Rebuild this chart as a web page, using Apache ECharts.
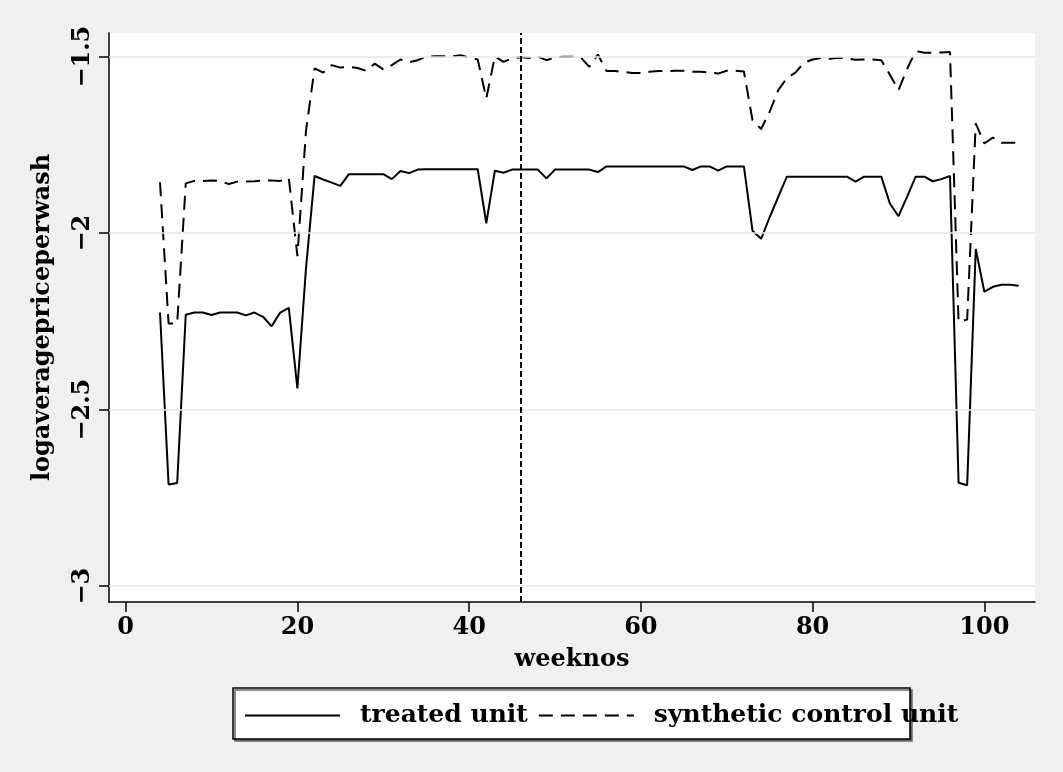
<!DOCTYPE html>
<html>
<head>
<meta charset="utf-8">
<script src="https://cdn.jsdelivr.net/npm/echarts@6/dist/echarts.min.js"></script>
<style>
  html, body { margin: 0; padding: 0; background: #f0f0f0; }
  #chart { width: 1063px; height: 772px; }
</style>
</head>
<body>
<div id="chart"></div>
<script>
const weeks = [4, 5, 6, 7, 8, 9, 10, 11, 12, 13, 14, 15, 16, 17, 18, 19, 20, 21, 22, 23,
  24, 25, 26, 27, 28, 29, 30, 31, 32, 33, 34, 35, 36, 37, 38, 39, 40, 41, 42, 43,
  44, 45, 46, 47, 48, 49, 50, 51, 52, 53, 54, 55, 56, 57, 58, 59, 60, 61, 62, 63,
  64, 65, 66, 67, 68, 69, 70, 71, 72, 73, 74, 75, 76, 77, 78, 79, 80, 81, 82, 83,
  84, 85, 86, 87, 88, 89, 90, 91, 92, 93, 94, 95, 96, 97, 98, 99, 100, 101, 102, 103, 104]

const treated = [-2.225, -2.712, -2.708, -2.231, -2.225, -2.225, -2.232, -2.225, -2.225, -2.225,
  -2.233, -2.225, -2.237, -2.264, -2.225, -2.212, -2.440, -2.100, -1.838, -1.848,
  -1.857, -1.866, -1.833, -1.833, -1.833, -1.833, -1.833, -1.847, -1.824, -1.830,
  -1.820, -1.819, -1.819, -1.819, -1.819, -1.819, -1.819, -1.819, -1.972, -1.823,
  -1.829, -1.820, -1.820, -1.820, -1.820, -1.845, -1.820, -1.820, -1.820, -1.820,
  -1.820, -1.827, -1.811, -1.811, -1.811, -1.811, -1.811, -1.811, -1.811, -1.811,
  -1.811, -1.811, -1.821, -1.811, -1.811, -1.823, -1.811, -1.811, -1.811, -1.993,
  -2.016, -1.955, -1.897, -1.840, -1.840, -1.840, -1.840, -1.840, -1.840, -1.840,
  -1.840, -1.854, -1.840, -1.840, -1.840, -1.916, -1.952, -1.897, -1.840, -1.840,
  -1.853, -1.847, -1.838, -2.707, -2.714, -2.045, -2.166, -2.152, -2.146, -2.146, -2.149]

const synthetic = [-1.856, -2.256, -2.256, -1.859, -1.852, -1.852, -1.851, -1.852, -1.861, -1.854,
  -1.854, -1.853, -1.851, -1.851, -1.852, -1.844, -2.065, -1.710, -1.533, -1.545,
  -1.524, -1.531, -1.529, -1.532, -1.540, -1.520, -1.536, -1.524, -1.508, -1.516,
  -1.510, -1.500, -1.499, -1.499, -1.499, -1.496, -1.503, -1.508, -1.618, -1.499,
  -1.515, -1.505, -1.502, -1.504, -1.500, -1.510, -1.502, -1.500, -1.500, -1.502,
  -1.529, -1.494, -1.541, -1.541, -1.543, -1.546, -1.546, -1.543, -1.541, -1.541,
  -1.540, -1.540, -1.543, -1.543, -1.545, -1.548, -1.540, -1.540, -1.542, -1.680,
  -1.705, -1.656, -1.595, -1.561, -1.545, -1.517, -1.508, -1.504, -1.506, -1.503,
  -1.505, -1.509, -1.508, -1.508, -1.510, -1.551, -1.595, -1.535, -1.484, -1.489,
  -1.489, -1.488, -1.487, -2.251, -2.245, -1.689, -1.746, -1.729, -1.744, -1.744, -1.744]

const xTicks = [0, 20, 40, 60, 80, 100]
const yTicks = [-3, -2.5, -2, -1.5]
const treatmentWeek = 46

const font = 'DejaVu Serif'
const chart = echarts.init(document.getElementById('chart'))
const pairs = vals => weeks.map((w, i) => [w, vals[i]])
const minus = v => String(v).replace('-', '\u2212')

chart.setOption({
  animation: false,
  backgroundColor: '#f0f0f0',
  textStyle: { fontFamily: font },
  grid: { left: 109, right: 28, top: 33, bottom: 170, show: true, backgroundColor: '#fff', borderWidth: 0, outerBoundsMode: 'none' },
  xAxis: {
    type: 'value', min: -1.94, max: 105.9,
    name: 'weeknos', nameLocation: 'middle', nameGap: 46,
    nameTextStyle: { color: '#000', fontSize: 24, fontWeight: 'bold', fontFamily: font },
    axisLine: { onZero: false, lineStyle: { color: '#000', width: 1.5 } },
    axisTick: { show: true, length: 10, customValues: xTicks, lineStyle: { color: '#000', width: 1.5 } },
    axisLabel: { customValues: xTicks, margin: 14, color: '#000', fontSize: 24, fontWeight: 'bold', fontFamily: font },
    splitLine: { show: false },
  },
  yAxis: {
    type: 'value', min: -3.045, max: -1.433,
    name: 'logaveragepriceperwash', nameLocation: 'middle', nameRotate: 90, nameGap: 54,
    nameTextStyle: { color: '#000', fontSize: 24, fontWeight: 'bold', fontFamily: font },
    axisLine: { show: true, onZero: false, lineStyle: { color: '#000', width: 1.5 } },
    axisTick: { show: true, length: 10, customValues: yTicks, lineStyle: { color: '#000', width: 1.5 } },
    axisLabel: { customValues: yTicks, rotate: 90, margin: 14, formatter: minus, color: '#000', fontSize: 24, fontWeight: 'bold', fontFamily: font },
    splitLine: { show: false },
  },
  legend: {
    data: ['treated unit', 'synthetic control unit'],
    left: 244, top: 703, padding: 0, itemGap: 10, itemWidth: 95, itemHeight: 24,
    itemStyle: { opacity: 0 },
    textStyle: { color: '#000', fontSize: 25, fontWeight: 'bold', fontFamily: font, padding: [0, 0, 0, 15] },
  },
  graphic: [{
    type: 'rect', z: 1,
    shape: { x: 233, y: 688, width: 677, height: 51 },
    style: { fill: '#fff', stroke: '#000', lineWidth: 1.5, shadowColor: '#666', shadowOffsetX: 2, shadowOffsetY: 2, shadowBlur: 0 },
  }],
  series: [
    {
      name: 'grid', type: 'line', data: [], z: 1, silent: true,
      markLine: {
        silent: true, symbol: ['none', 'none'], label: { show: false },
        lineStyle: { color: '#e6e6e6', width: 1.5, type: 'solid' },
        data: yTicks.map(v => ({ yAxis: v })),
      },
    },
    {
      name: 'treated unit', type: 'line', data: pairs(treated), symbol: 'none', z: 3,
      lineStyle: { color: '#000', width: 2 }, itemStyle: { color: '#000' },
    },
    {
      name: 'synthetic control unit', type: 'line', data: pairs(synthetic), symbol: 'none', z: 3,
      lineStyle: { color: '#000', width: 2, type: [14, 8] }, itemStyle: { color: '#000' },
      markLine: {
        silent: true, symbol: ['none', 'none'], label: { show: false },
        lineStyle: { color: '#000', width: 2, type: [6, 3] },
        data: [{ xAxis: treatmentWeek }],
      },
    },
  ],
})
</script>
</body>
</html>
